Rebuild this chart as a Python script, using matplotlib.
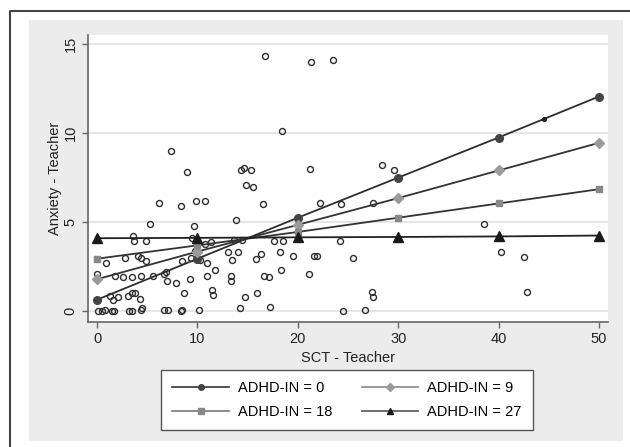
import matplotlib.pyplot as plt
from matplotlib.lines import Line2D
from matplotlib.patches import Rectangle

plt.rcParams['font.family'] = ['Liberation Sans', 'DejaVu Sans']

# scatter: SCT - Teacher vs Anxiety - Teacher
sct = [16.7, 21.3, 23.5, 18.4, 7.4, 9.0, 14.3, 14.6, 15.3, 21.2, 28.4, 29.6, 14.8, 15.5,
       6.2, 8.4, 9.9, 10.8, 16.5, 22.2, 24.3, 27.5, 38.5, 24.2, 21.6, 21.9, 25.5, 21.1,
       40.2, 42.5, 27.4, 27.5, 42.8, 24.5, 26.7, 13.8, 5.3, 9.7, 3.6, 3.7, 4.9, 9.5, 9.9,
       11.4, 10.8, 13.6, 14.4, 17.6, 18.5, 0.9, 2.8, 4.1, 4.4, 4.9, 8.5, 9.4, 9.8, 11.0,
       10.3, 13.0, 13.4, 14.0, 15.8, 16.3, 18.2, 19.5, 0.0, 0.0, 1.8, 2.6, 3.5, 4.4, 5.6,
       6.7, 6.9, 7.0, 7.9, 9.3, 11.0, 11.8, 13.3, 13.3, 8.7, 11.5, 11.6, 14.7, 15.9, 16.6,
       17.1, 18.3, 1.3, 1.6, 2.1, 3.1, 3.5, 3.8, 4.3, 0.1, 0.5, 0.8, 1.5, 1.7, 3.2, 3.5,
       4.4, 4.5, 6.7, 7.1, 8.4, 8.5, 10.2, 14.2, 17.2]
anx = [14.3, 14.0, 14.1, 10.1, 9.0, 7.8, 7.9, 8.05, 7.9, 8.0, 8.2, 7.9, 7.1, 6.95,
       6.1, 5.9, 6.2, 6.2, 6.0, 6.1, 6.0, 6.1, 4.9, 3.95, 3.1, 3.1, 3.0, 2.1,
       3.3, 3.05, 1.1, 0.8, 1.1, 0.0, 0.1, 5.1, 4.9, 4.8, 4.2, 3.95, 3.95, 4.1, 3.95,
       3.9, 3.75, 4.0, 4.0, 3.95, 3.95, 2.7, 3.0, 3.1, 3.0, 2.8, 2.8, 3.0, 3.4, 2.7,
       2.9, 3.3, 2.9, 3.3, 2.95, 3.2, 3.3, 3.1, 2.1, 1.8, 2.0, 1.9, 1.9, 2.0, 2.0,
       2.1, 2.2, 1.7, 1.6, 1.8, 2.0, 2.3, 2.0, 1.7, 1.05, 1.2, 0.9, 0.8, 1.0, 2.0,
       1.9, 2.3, 0.85, 0.65, 0.8, 0.85, 1.0, 1.0, 0.7, 0.0, 0.0, 0.05, 0.0, 0.0, 0.0, 0.0,
       0.1, 0.2, 0.05, 0.05, 0.0, 0.1, 0.1, 0.2, 0.25]

# predicted lines
x_pred = [0, 10, 20, 30, 40, 50]
adhd0 = [0.65, 2.95, 5.25, 7.5, 9.75, 12.05]
adhd9 = [1.8, 3.35, 4.85, 6.35, 7.9, 9.45]
adhd18 = [2.95, 3.7, 4.45, 5.25, 6.05, 6.85]
adhd27 = [4.1, 4.12, 4.15, 4.17, 4.2, 4.25]
labels = ['ADHD-IN = 0', 'ADHD-IN = 9', 'ADHD-IN = 18', 'ADHD-IN = 27']

fig = plt.figure(figsize=(6.3, 4.47), dpi=100)
fig.patch.set_facecolor('white')

# grey panel and outer frame
fig.patches.append(Rectangle((29/630, 1-441/447), 594/630, 421/447, transform=fig.transFigure,
                             facecolor='#ececec', edgecolor='none', zorder=-2))
fig.lines.append(Line2D([10/630, 10/630, 1], [0, 1-11/447, 1-11/447], transform=fig.transFigure,
                        color='#444444', lw=1.5, zorder=-1))

ax = fig.add_axes([88/630, 1-322/447, 520/630, 287/447])
ax.set_zorder(1)
ax.set_facecolor('white')

ax.plot(sct, anx, 'o', mfc='none', mec='#2e2e2e', ms=4.3, mew=1.0, zorder=2)
ax.plot([44.5], [10.8], 'o', color='#222222', ms=2.8, zorder=4)

styles = [
    (adhd0, 'o', '#444444', '#2e2e2e', 5.5),
    (adhd9, 'D', '#9a9a9a', '#333333', 5.5),
    (adhd18, 's', '#888888', '#333333', 5),
    (adhd27, '^', '#1a1a1a', '#222222', 6.5),
]
for vals, mk, mcol, lcol, ms in styles:
    ax.plot(x_pred, vals, color=lcol, lw=1.3, marker=mk, ms=ms, mfc=mcol, mec=mcol, zorder=3)

ax.set_xlim(-0.9, 50.9)
ax.set_ylim(-0.6, 15.5)
ax.set_xticks([0, 10, 20, 30, 40, 50])
ax.set_yticks([0, 5, 10, 15])
ax.yaxis.grid(True, color='#e6e6e6', lw=1.5)
ax.set_axisbelow(True)
for s in ['top', 'right']:
    ax.spines[s].set_visible(False)
for s in ['left', 'bottom']:
    ax.spines[s].set_color('#666666')
    ax.spines[s].set_linewidth(1.2)
ax.tick_params(axis='both', colors='#666666', labelcolor='#222222', labelsize=10.5, length=4, width=1)
for t in ax.get_yticklabels():
    t.set_rotation(90)
    t.set_va('center')
ax.set_xlabel('SCT - Teacher', fontsize=10.5, color='#222222', labelpad=3)
ax.set_ylabel('Anxiety - Teacher', fontsize=10.5, color='#222222', labelpad=1)

handles = [
    Line2D([], [], color='#333333', lw=1.2, marker='o', ms=4, mfc='#444444', mec='#444444'),
    Line2D([], [], color='#888888', lw=1.2, marker='D', ms=4, mfc='#9a9a9a', mec='#9a9a9a'),
    Line2D([], [], color='#777777', lw=1.2, marker='s', ms=4, mfc='#888888', mec='#888888'),
    Line2D([], [], color='#555555', lw=1.2, marker='^', ms=5, mfc='#1a1a1a', mec='#1a1a1a'),
]
# matplotlib fills legend columns first; reorder so rows read 0, 9 / 18, 27
order = [0, 2, 1, 3]
leg = fig.legend([handles[i] for i in order], [labels[i] for i in order], loc='center',
                 bbox_to_anchor=(347/630, 1-400/447), ncol=2,
                 fontsize=10.5, handlelength=3.9, handletextpad=0.6, columnspacing=2.0,
                 frameon=True, fancybox=False, edgecolor='#555555', framealpha=1,
                 borderpad=0.8, labelspacing=0.65)
leg.get_frame().set_linewidth(1.0)

fig.savefig('out.png', dpi=100)
